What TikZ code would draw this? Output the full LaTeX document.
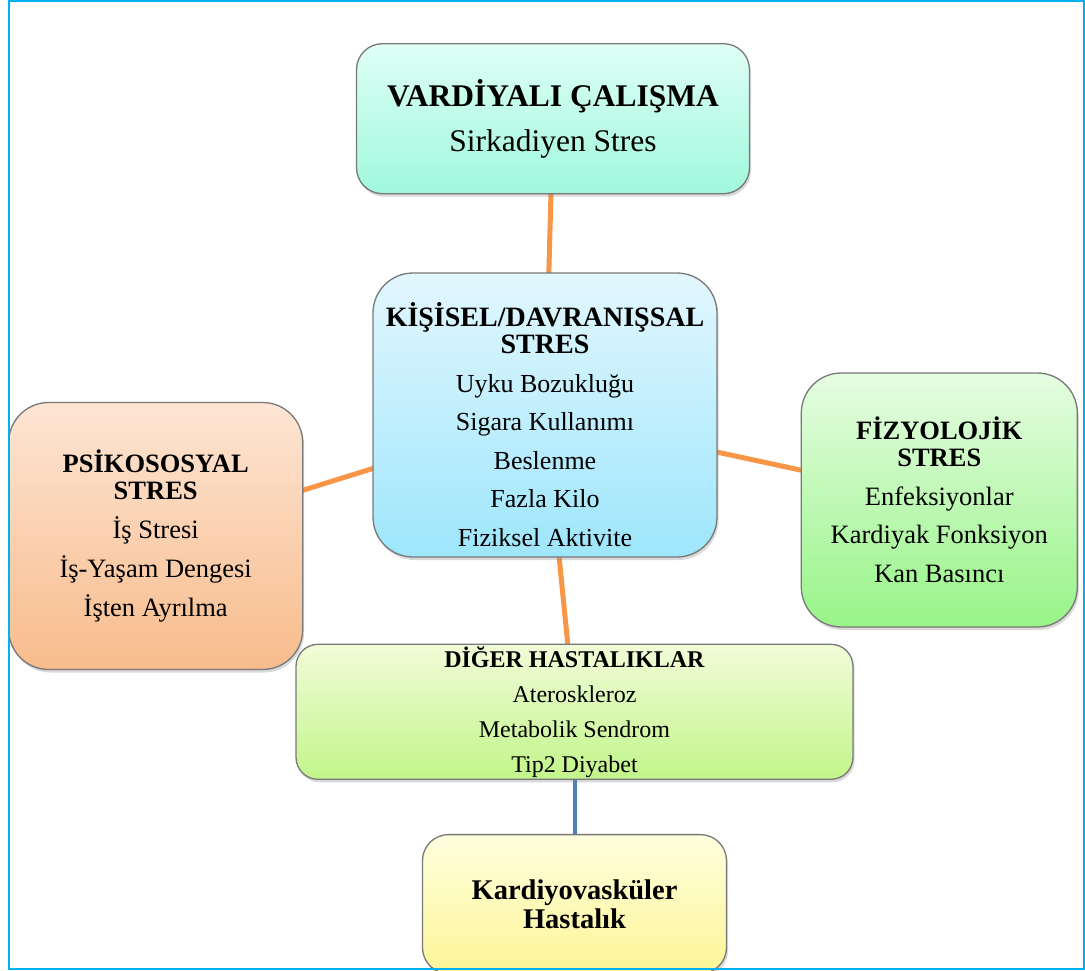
\documentclass[tikz,border=0pt]{standalone}
\usepackage{fontspec}
\setmainfont{Liberation Serif}
\usetikzlibrary{positioning, shadows, backgrounds}

\definecolor{frameblue}{RGB}{0,176,240}
\definecolor{boxline}{RGB}{120,120,120}
\definecolor{connorange}{RGB}{247,150,70}
\definecolor{connblue}{RGB}{79,129,189}

\begin{document}
\begin{tikzpicture}[
  x=1pt, y=-1pt,
  box/.style={draw=boxline, line width=1.3pt, align=center, inner sep=2pt,
              drop shadow={shadow xshift=1.5pt, shadow yshift=-3pt, opacity=.3}},
  shiftbox/.style={box, top color=#1Top, bottom color=#1Bot},
  conn/.style={line width=5pt, draw=connorange},
  connb/.style={line width=4pt, draw=connblue}
]
  \useasboundingbox (0,0) rectangle (1085,971);

  \colorlet{vardTop}{rgb,255:red,222;green,255;blue,246}
  \colorlet{vardBot}{rgb,255:red,160;green,248;blue,220}
  \colorlet{kisTop}{rgb,255:red,226;green,247;blue,254}
  \colorlet{kisBot}{rgb,255:red,158;green,230;blue,252}
  \colorlet{psikoTop}{rgb,255:red,253;green,229;blue,212}
  \colorlet{psikoBot}{rgb,255:red,248;green,188;blue,140}
  \colorlet{fizTop}{rgb,255:red,230;green,253;blue,226}
  \colorlet{fizBot}{rgb,255:red,152;green,244;blue,136}
  \colorlet{digerTop}{rgb,255:red,241;green,252;blue,216}
  \colorlet{digerBot}{rgb,255:red,194;green,245;blue,138}
  \colorlet{kardTop}{rgb,255:red,255;green,255;blue,222}
  \colorlet{kardBot}{rgb,255:red,252;green,245;blue,150}

  % center
  \node[shiftbox=kis, rounded corners=40pt, minimum width=344pt, minimum height=284pt,
        font=\fontsize{26}{38.5}\selectfont] (kis) at (545,415)
    {\rule{0pt}{43pt}{\fontsize{28}{28}\selectfont\bfseries KİŞİSEL/DAVRANIŞSAL}\\[-11.5pt]
     {\fontsize{28}{28}\selectfont\bfseries STRES}\\
     Uyku Bozukluğu\\Sigara Kullanımı\\Beslenme\\Fazla Kilo\\Fiziksel Aktivite};

  \node[shiftbox=vard, rounded corners=26pt, minimum width=393pt, minimum height=150pt,
        font=\fontsize{31.5}{45}\selectfont, above=78pt of kis, xshift=8pt] (vard)
    {\textbf{VARDİYALI ÇALIŞMA}\\Sirkadiyen Stres};

  \node[shiftbox=psiko, rounded corners=40pt, minimum width=294pt, minimum height=267pt,
        font=\fontsize{26.5}{39}\selectfont, left=69pt of kis, yshift=-121pt] (psiko)
    {\textbf{PSİKOSOSYAL}\\[-12pt]\textbf{STRES}\\İş Stresi\\İş-Yaşam Dengesi\\İşten Ayrılma};

  \node[shiftbox=fiz, rounded corners=40pt, minimum width=276pt, minimum height=254pt,
        font=\fontsize{26.5}{38.5}\selectfont, right=83pt of kis, yshift=-85pt] (fiz)
    {\textbf{FİZYOLOJİK}\\[-11.5pt]\textbf{STRES}\\Enfeksiyonlar\\Kardiyak Fonksiyon\\Kan Basıncı};

  \node[shiftbox=diger, rounded corners=22pt, minimum width=557pt, minimum height=132pt,
        font=\fontsize{24}{35}\selectfont, below=86pt of kis, xshift=29.5pt] (diger)
    {\textbf{DİĞER HASTALIKLAR}\\Ateroskleroz\\Metabolik Sendrom\\Tip2 Diyabet};

  \node[shiftbox=kard, rounded corners=26pt, minimum width=304pt, minimum height=139pt,
        font=\fontsize{28.5}{28.5}\selectfont\bfseries, below=54pt of diger] (kard)
    {Kardiyovasküler\\Hastalık};

  \begin{scope}[on background layer]
    \draw[conn] (vard.center) -- (kis.center);
    \draw[conn] (kis.center) -- (psiko.center);
    \draw[conn] (kis.center) -- (fiz.center);
    \draw[conn] (kis.center) -- (diger.center);
    \draw[connb] (diger.center) -- (kard.center);
  \end{scope}

  % frame
  \draw[frameblue, line width=2pt] (9,1) rectangle (1084,969);
\end{tikzpicture}
\end{document}
